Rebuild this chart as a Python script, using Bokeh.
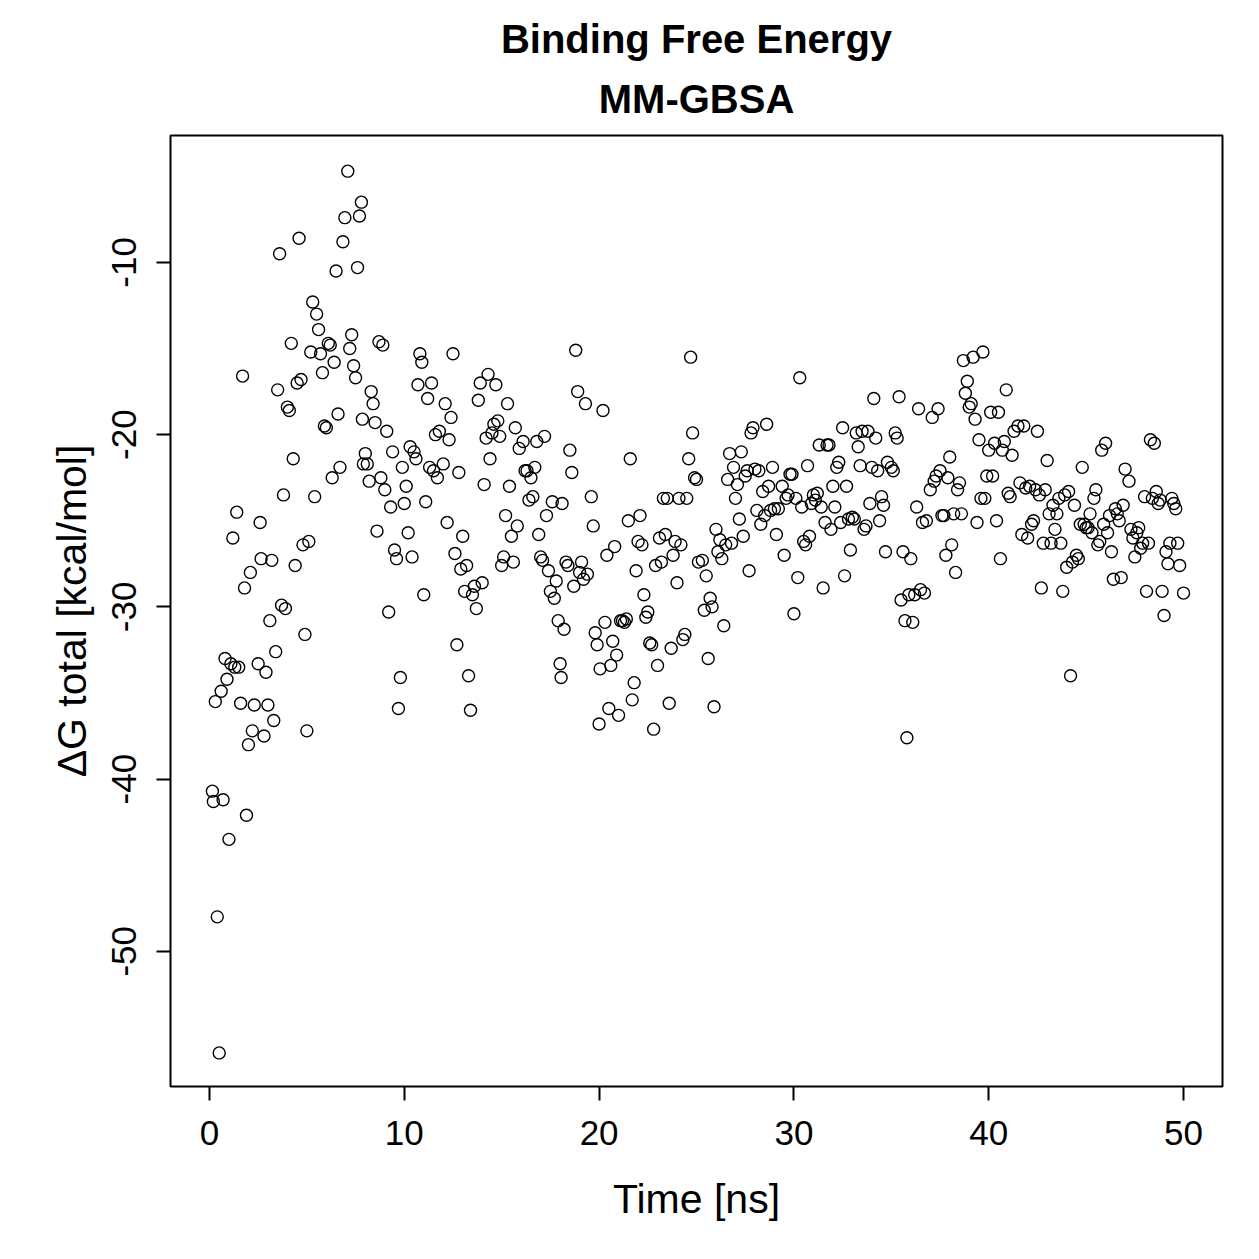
from bokeh.plotting import figure
from bokeh.models import Range1d, FixedTicker, Title, ColumnDataSource
from bokeh.embed import file_html
from bokeh.resources import INLINE

time_ns = [0.15,0.2,0.3,0.4,0.5,0.6,0.7,0.8,0.9,1.0,1.1,1.2,1.3,1.4,1.5,1.6,1.7,1.8,1.9,2.0,
2.1,2.2,2.3,2.5,2.6,2.65,2.8,2.9,3.0,3.1,3.2,3.3,3.4,3.5,3.6,3.7,3.8,3.9,4.0,4.1,
4.2,4.3,4.4,4.5,4.6,4.7,4.8,4.9,5.0,5.1,5.2,5.3,5.4,5.5,5.6,5.7,5.8,5.9,6.0,6.1,
6.2,6.3,6.4,6.5,6.6,6.7,6.85,6.95,7.1,7.2,7.3,7.4,7.5,7.6,7.7,7.8,7.85,7.9,8.0,8.1,
8.2,8.3,8.4,8.5,8.6,8.7,8.8,8.9,9.0,9.1,9.2,9.3,9.4,9.5,9.6,9.7,9.8,9.9,10.0,10.1,
10.2,10.3,10.4,10.5,10.6,10.7,10.8,10.9,11.0,11.1,11.2,11.3,11.4,11.5,11.6,11.7,11.8,12.0,12.1,12.2,
12.3,12.4,12.5,12.6,12.7,12.8,12.9,13.0,13.1,13.2,13.3,13.4,13.5,13.6,13.7,13.8,13.9,14.0,14.1,14.2,
14.3,14.4,14.5,14.6,14.7,14.8,14.9,15.0,15.1,15.2,15.3,15.4,15.5,15.6,15.7,15.8,15.9,16.1,16.2,16.3,
16.4,16.5,16.6,16.7,16.8,16.9,17.0,17.1,17.2,17.3,17.4,17.5,17.6,17.7,17.8,17.9,18.0,18.05,18.1,18.2,
18.3,18.4,18.5,18.6,18.7,18.8,18.9,19.0,19.1,19.2,19.3,19.4,19.6,19.7,19.8,19.9,20.0,20.05,20.2,20.3,
20.4,20.5,20.6,20.7,20.8,20.9,21.0,21.1,21.2,21.3,21.4,21.5,21.6,21.7,21.8,21.9,22.0,22.1,22.2,22.3,
22.4,22.5,22.6,22.7,22.8,22.9,23.0,23.1,23.2,23.3,23.4,23.5,23.6,23.7,23.8,23.9,24.0,24.1,24.2,24.3,
24.4,24.5,24.6,24.7,24.8,24.9,25.0,25.1,25.3,25.4,25.5,25.6,25.7,25.8,25.9,26.0,26.1,26.2,26.3,26.4,
26.5,26.6,26.7,26.8,26.9,27.0,27.1,27.2,27.3,27.4,27.5,27.6,27.7,27.8,27.9,28.0,28.1,28.2,28.3,28.4,
28.5,28.6,28.7,28.8,28.9,29.0,29.1,29.2,29.4,29.5,29.6,29.7,29.8,29.9,30.0,30.1,30.2,30.3,30.4,30.5,
30.6,30.7,30.8,30.9,31.0,31.1,31.2,31.3,31.4,31.5,31.6,31.7,31.8,31.9,32.0,32.1,32.2,32.3,32.4,32.5,
32.6,32.7,32.8,32.9,33.0,33.1,33.2,33.3,33.4,33.5,33.6,33.7,33.8,33.9,34.0,34.1,34.2,34.3,34.4,34.5,
34.6,34.7,34.8,35.0,35.1,35.2,35.3,35.4,35.5,35.6,35.7,35.8,35.9,36.0,36.1,36.2,36.3,36.4,36.5,36.6,
36.7,36.8,37.0,37.1,37.2,37.3,37.4,37.5,37.6,37.7,37.8,37.9,38.0,38.1,38.2,38.3,38.4,38.5,38.6,38.7,
38.8,38.9,39.0,39.1,39.2,39.3,39.4,39.5,39.6,39.7,39.8,39.9,40.0,40.1,40.2,40.3,40.4,40.5,40.6,40.7,
40.8,40.9,41.0,41.1,41.2,41.3,41.5,41.6,41.7,41.8,41.9,42.0,42.1,42.2,42.3,42.4,42.5,42.6,42.7,42.8,
42.9,43.0,43.1,43.2,43.3,43.4,43.5,43.6,43.7,43.8,43.9,44.0,44.1,44.2,44.3,44.4,44.5,44.6,44.7,44.8,
44.9,45.0,45.1,45.2,45.3,45.4,45.5,45.6,45.7,45.8,45.9,46.0,46.1,46.2,46.3,46.4,46.5,46.6,46.7,46.8,
46.9,47.0,47.2,47.3,47.4,47.5,47.6,47.7,47.8,47.9,48.0,48.1,48.2,48.3,48.4,48.5,48.6,48.7,48.8,48.9,
49.0,49.1,49.2,49.3,49.4,49.5,49.6,49.7,49.8,50.0]

delta_g = [-40.7,-41.3,-35.5,-48.0,-55.9,-34.9,-41.2,-33.0,-34.2,-43.5,-33.3,-26.0,-33.5,-24.5,-33.5,-35.6,-16.6,-28.9,-42.1,-38.0,
-28.0,-37.2,-35.7,-33.3,-25.1,-27.2,-37.5,-33.8,-35.7,-30.8,-27.3,-36.6,-32.6,-17.4,-9.5,-29.9,-23.5,-30.1,-18.4,-18.6,
-14.7,-21.4,-27.6,-17.0,-8.6,-16.8,-26.4,-31.6,-37.2,-26.2,-15.2,-12.3,-23.6,-13.0,-13.9,-15.3,-16.4,-19.5,-19.6,-14.7,
-14.8,-22.5,-15.8,-10.5,-18.8,-21.9,-8.8,-7.4,-4.7,-15.0,-14.2,-16.0,-16.7,-10.3,-7.3,-6.5,-19.1,-21.7,-21.1,-21.7,
-22.7,-17.5,-18.2,-19.3,-25.6,-14.6,-22.5,-14.8,-23.2,-19.8,-30.3,-24.2,-21.0,-26.7,-27.2,-35.9,-34.1,-21.9,-24.0,-23.0,
-25.7,-20.7,-27.1,-21.0,-21.4,-17.1,-15.3,-15.8,-29.3,-23.9,-17.9,-21.9,-17.0,-22.1,-20.0,-22.5,-19.8,-21.7,-18.2,-25.1,
-20.3,-19.0,-15.3,-26.9,-32.2,-22.2,-27.8,-25.9,-29.1,-27.6,-34.0,-36.0,-29.3,-28.8,-30.1,-18.0,-17.0,-28.6,-22.9,-20.2,
-16.5,-21.4,-19.9,-19.4,-17.1,-19.2,-20.1,-27.6,-27.1,-24.7,-18.2,-23.0,-25.9,-27.4,-19.6,-25.3,-20.8,-20.4,-22.1,-22.1,
-23.8,-22.5,-23.6,-21.9,-20.4,-25.8,-27.1,-27.3,-20.1,-24.7,-27.9,-29.1,-23.9,-29.5,-28.5,-30.8,-33.3,-34.1,-24.0,-31.3,
-27.4,-27.6,-20.9,-22.2,-28.8,-15.1,-17.5,-28.0,-27.4,-28.4,-18.2,-28.1,-23.6,-25.3,-31.5,-32.2,-36.8,-33.6,-18.6,-30.9,
-27.0,-35.9,-33.4,-32.0,-26.5,-32.8,-36.3,-30.8,-30.8,-30.9,-30.7,-25.0,-21.4,-35.4,-34.4,-27.9,-26.2,-24.7,-26.4,-29.3,
-30.6,-30.3,-32.1,-32.2,-37.1,-27.6,-33.4,-26.0,-27.4,-23.7,-25.8,-23.7,-35.6,-32.4,-27.0,-26.2,-28.6,-23.7,-26.4,-31.9,
-31.6,-23.7,-21.4,-15.5,-19.9,-22.5,-22.6,-27.4,-27.3,-30.2,-28.2,-33.0,-29.5,-30.0,-35.8,-25.5,-26.8,-26.1,-27.2,-31.1,
-26.4,-22.6,-21.1,-26.3,-21.9,-23.7,-22.9,-24.9,-21.0,-25.9,-22.4,-22.1,-27.9,-19.9,-19.6,-22.0,-24.4,-22.1,-25.2,-23.3,
-24.7,-19.4,-23.0,-24.4,-21.9,-24.3,-25.8,-24.3,-23.0,-27.0,-23.7,-23.5,-22.3,-22.3,-30.4,-23.7,-28.3,-16.7,-24.2,-26.2,
-26.4,-21.8,-25.9,-24.0,-23.5,-23.8,-23.4,-20.6,-24.2,-28.9,-25.1,-20.6,-20.6,-25.5,-23.0,-24.2,-21.9,-21.6,-25.1,-19.6,
-28.2,-23.0,-24.9,-26.7,-24.8,-24.9,-19.9,-20.7,-21.8,-19.8,-25.5,-25.3,-19.8,-24.0,-21.9,-17.9,-20.2,-22.1,-25.0,-23.6,
-24.1,-26.8,-21.6,-21.9,-22.1,-19.9,-20.2,-17.8,-29.6,-26.8,-30.8,-37.6,-29.3,-27.2,-30.9,-29.3,-24.2,-18.5,-29.0,-25.1,
-29.2,-25.0,-23.2,-19.0,-22.7,-22.4,-18.5,-22.1,-24.7,-24.7,-27.0,-22.5,-21.3,-26.4,-24.6,-28.0,-23.2,-22.8,-24.6,-15.7,
-17.6,-16.9,-18.4,-18.2,-15.5,-19.1,-25.1,-20.3,-23.7,-15.2,-23.7,-22.4,-20.9,-18.7,-22.4,-20.5,-25.0,-18.7,-27.2,-20.9,
-20.4,-17.4,-23.4,-23.6,-21.2,-19.8,-19.5,-22.8,-25.8,-19.5,-23.1,-26.0,-23.0,-25.2,-25.0,-23.2,-19.8,-23.5,-28.9,-26.3,
-23.2,-21.5,-24.6,-26.3,-24.1,-25.5,-24.6,-23.7,-26.3,-29.1,-23.5,-27.7,-23.3,-34.0,-27.4,-24.1,-27.0,-27.2,-25.2,-21.9,
-25.2,-25.4,-25.4,-24.6,-25.7,-23.7,-23.2,-26.4,-26.2,-20.9,-25.2,-20.5,-25.7,-24.7,-26.8,-28.4,-24.3,-24.6,-25.0,-28.3,
-24.1,-22.0,-22.7,-25.5,-26.0,-27.1,-25.7,-25.4,-26.6,-26.3,-23.6,-29.1,-26.3,-20.3,-23.7,-20.5,-23.3,-24.0,-23.8,-29.1,
-30.5,-26.8,-27.5,-26.3,-23.7,-24.0,-24.3,-26.3,-27.6,-29.2]

x_ticks = [0, 10, 20, 30, 40, 50]
y_ticks = [-50, -40, -30, -20, -10]
y_tick_labels = ["-50", "-40", "-30", "-20", "-10"]

FONT = "Liberation Sans"

p = figure(width=1259, height=1259, output_backend="svg", toolbar_location=None,
           x_range=Range1d(-2, 52), y_range=Range1d(-57.85, -2.63),
           min_border_left=170, min_border_right=37, min_border_top=135, min_border_bottom=173)
p.title = None
p.background_fill_color = "white"
p.border_fill_color = "white"
p.outline_line_color = "black"
p.outline_line_width = 2
p.outline_line_alpha = 1
p.grid.visible = False

src = ColumnDataSource(dict(t=time_ns, g=delta_g))
p.scatter("t", "g", source=src, marker="circle", size=12, fill_color=None,
          line_color="black", line_width=1.4)

for ax in (p.xaxis[0], p.yaxis[0]):
    ax.axis_line_color = None
    ax.major_tick_out = 14
    ax.major_tick_in = 0
    ax.major_tick_line_width = 2
    ax.minor_tick_line_color = None
    ax.major_label_text_font = FONT
    ax.major_label_text_font_size = "35px"
    ax.major_label_text_color = "black"
    ax.axis_label_text_font = FONT
    ax.axis_label_text_font_size = "41px"
    ax.axis_label_text_font_style = "normal"
    ax.axis_label_text_color = "black"

p.xaxis[0].ticker = FixedTicker(ticks=x_ticks)
p.yaxis[0].ticker = FixedTicker(ticks=y_ticks)
p.yaxis[0].major_label_overrides = {t: s for t, s in zip(y_ticks, y_tick_labels)}
p.xaxis[0].axis_label = "Time [ns]"
p.yaxis[0].axis_label = "ΔG total [kcal/mol]"
p.xaxis[0].major_label_standoff = 20
p.xaxis[0].axis_label_standoff = 28
p.yaxis[0].major_label_orientation = "vertical"
p.yaxis[0].major_label_standoff = 20
p.yaxis[0].axis_label_standoff = 15

p.add_layout(Title(text="MM-GBSA", align="center", text_font=FONT, text_font_size="40px",
                   text_font_style="bold", text_color="black", standoff=29), "above")
p.add_layout(Title(text="Binding Free Energy", align="center", text_font=FONT, text_font_size="40px",
                   text_font_style="bold", text_color="black", standoff=0), "above")

open("out.html", "w").write(file_html(p, INLINE))
